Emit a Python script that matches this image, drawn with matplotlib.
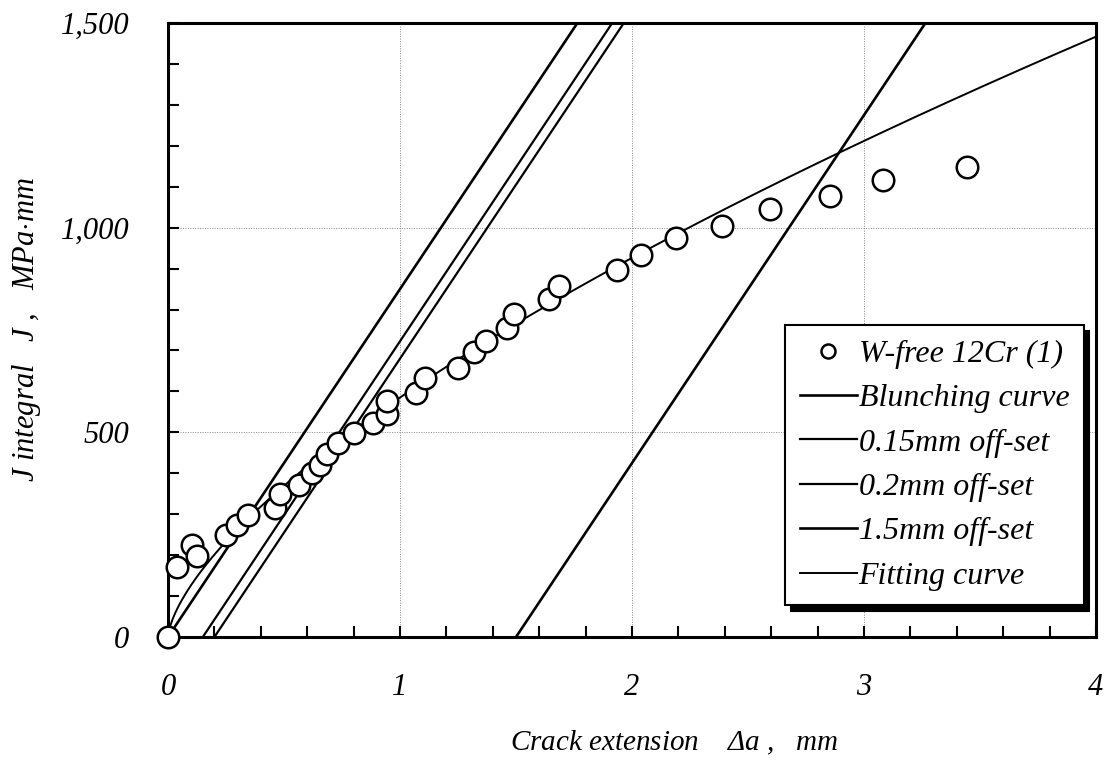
import numpy as np
import matplotlib
matplotlib.use('Agg')
import matplotlib.pyplot as plt
from matplotlib.ticker import MultipleLocator, FixedLocator, FixedFormatter

plt.rcParams['font.family'] = ['Liberation Serif', 'DejaVu Serif']
plt.rcParams['font.style'] = 'italic'
plt.rcParams['mathtext.fontset'] = 'custom'
plt.rcParams['mathtext.it'] = 'Liberation Serif:italic'
plt.rcParams['mathtext.rm'] = 'Liberation Serif:italic'

# measured J-R data (crack extension in mm, J in MPa*mm)
crack_ext = [0.0, 0.037, 0.102, 0.124, 0.25, 0.296, 0.346, 0.461, 0.483, 0.564,
             0.619, 0.655, 0.687, 0.734, 0.802, 0.882, 0.945, 0.943, 1.067, 1.108,
             1.251, 1.319, 1.369, 1.46, 1.491, 1.642, 1.687, 1.937, 2.037, 2.188,
             2.386, 2.595, 2.853, 3.083, 3.445]
j_value = [0, 172, 225, 198, 249, 274, 298, 314, 350, 372,
           401, 420, 447, 473, 498, 522, 546, 577, 597, 632,
           656, 697, 724, 754, 788, 825, 858, 897, 933, 974,
           1004, 1046, 1078, 1117, 1149]

# blunting line slope and off-set positions (mm)
blunt_slope = 850.0
offsets = [0.15, 0.2, 1.5]
offset_labels = ['0.15mm off-set', '0.2mm off-set', '1.5mm off-set']

# power-law fit J = C * da^n
fit_c = 585.0
fit_n = 0.663

x_ticks = [0, 1, 2, 3, 4]
y_ticks = [0, 500, 1000, 1500]
y_tick_labels = ['0', '500', '1,000', '1,500']

fig = plt.figure(figsize=(11.06, 7.66), dpi=100)
ax = fig.add_axes([0.1519, 0.1684, 0.8391, 0.8016])

ax.set_xlim(0, 4)
ax.set_ylim(0, 1500)

xx = np.linspace(0, 4, 400)
h_data, = ax.plot(crack_ext, j_value, 'o', mfc='white', mec='black', ms=15.5, mew=1.8,
                  clip_on=False, zorder=5, label='W-free 12Cr (1)')
h_blunt, = ax.plot(xx, blunt_slope * xx, color='black', lw=1.9, label='Blunching curve')
h_off = []
for off, lab, lw in zip(offsets, offset_labels, [1.6, 1.6, 1.9]):
    h, = ax.plot(xx, blunt_slope * (xx - off), color='black', lw=lw, label=lab)
    h_off.append(h)
h_fit, = ax.plot(xx, fit_c * xx ** fit_n, color='black', lw=1.4, label='Fitting curve')

ax.xaxis.set_major_locator(FixedLocator(x_ticks))
ax.yaxis.set_major_locator(FixedLocator(y_ticks))
ax.yaxis.set_major_formatter(FixedFormatter(y_tick_labels))
ax.xaxis.set_minor_locator(MultipleLocator(0.2))
ax.yaxis.set_minor_locator(MultipleLocator(100))
ax.tick_params(which='both', direction='in', length=8, width=1.5, top=False, right=False)
ax.tick_params(axis='x', which='major', pad=26, labelsize=22)
ax.tick_params(axis='y', which='major', pad=28, labelsize=22)
for s in ax.spines.values():
    s.set_linewidth(2.2)

ax.grid(True, which='major', color='#888888', linestyle=(0, (1, 1.5)), linewidth=0.7)
ax.set_axisbelow(True)

ax.set_xlabel('Crack extension    $\\Delta a$ ,   mm', fontsize=21)
ax.set_ylabel('J integral   J ,   MPa$\\cdot$mm', fontsize=22)
ax.xaxis.set_label_coords(0.545, -0.15)
ax.yaxis.set_label_coords(-0.135, 0.5)

leg = ax.legend(handles=[h_data, h_blunt] + h_off + [h_fit], loc='upper left',
                bbox_to_anchor=(0.665, 0.508), fontsize=23, frameon=True,
                fancybox=False, edgecolor='black', framealpha=1,
                handlelength=1.8, handletextpad=0.05, labelspacing=0.47,
                borderpad=0.45, borderaxespad=0, markerscale=0.65,
                shadow={'ox': 4, 'oy': -4, 'facecolor': 'black', 'edgecolor': 'black', 'alpha': 1})
leg.get_frame().set_linewidth(1.5)

fig.savefig('out.png', dpi=100)
